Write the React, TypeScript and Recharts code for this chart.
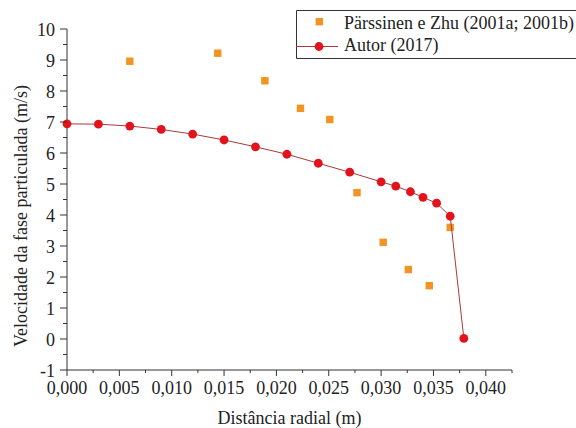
import { Legend, Scatter, ScatterChart, XAxis, YAxis } from "recharts";

// Autor (2017) - red circles joined by a thin line
const autorX = [0, 0.003, 0.006, 0.009, 0.012, 0.015, 0.018, 0.021, 0.024, 0.027, 0.03, 0.0314, 0.0328, 0.034, 0.0353, 0.0366, 0.0379];
const autorY = [6.94, 6.93, 6.87, 6.76, 6.61, 6.42, 6.2, 5.96, 5.67, 5.38, 5.07, 4.93, 4.75, 4.57, 4.38, 3.96, 0.02];

// Pärssinen e Zhu (2001a; 2001b) - orange squares
const parssinenX = [0.006, 0.0144, 0.0189, 0.0223, 0.0251, 0.0277, 0.0302, 0.0326, 0.0346, 0.0366];
const parssinenY = [8.96, 9.22, 8.33, 7.44, 7.08, 4.72, 3.12, 2.24, 1.72, 3.6];

const xTicks = [0, 0.0025, 0.005, 0.0075, 0.01, 0.0125, 0.015, 0.0175, 0.02, 0.0225, 0.025, 0.0275, 0.03, 0.0325, 0.035, 0.0375, 0.04, 0.0425];
const yTicks = [-1, -0.5, 0, 0.5, 1, 1.5, 2, 2.5, 3, 3.5, 4, 4.5, 5, 5.5, 6, 6.5, 7, 7.5, 8, 8.5, 9, 9.5, 10];

const autorData = autorX.map((x, i) => ({ x, y: autorY[i] }));
const parssinenData = parssinenX.map((x, i) => ({ x, y: parssinenY[i] }));

const ORANGE = "#f39322";
const RED = "#e3131b";
const LINE = "#a83a3a";
const AXIS = "#333";
const FONT = "'Liberation Serif', 'Times New Roman', serif";

const isMajor = (v: number, step: number) => Math.abs(v / step - Math.round(v / step)) < 1e-6;

const XTick = (props: any) => {
  const { x, y, payload } = props;
  const major = isMajor(payload.value, 0.005);
  return (
    <g>
      <line x1={x} x2={x} y1={y} y2={y + (major ? 6 : 3)} stroke={AXIS} />
      {major && (
        <text x={x} y={y + 24} textAnchor="middle" fontFamily={FONT} fontSize={18} fill="#222">
          {payload.value.toFixed(3).replace(".", ",")}
        </text>
      )}
    </g>
  );
};

const YTick = (props: any) => {
  const { x, y, payload } = props;
  const major = isMajor(payload.value, 1);
  return (
    <g>
      <line x1={x} x2={x - (major ? 7 : 4)} y1={y} y2={y} stroke={AXIS} />
      {major && (
        <text x={x - 12} y={y + 7} textAnchor="end" fontFamily={FONT} fontSize={18} fill="#222">
          {payload.value}
        </text>
      )}
    </g>
  );
};

const Square = (props: any) => (
  <rect x={props.cx - 3.7} y={props.cy - 3.7} width={7.4} height={7.4} fill={ORANGE} />
);

const Dot = (props: any) => <circle cx={props.cx} cy={props.cy} r={4.4} fill={RED} />;

const renderLegend = () => (
  <svg width={290} height={52} style={{ display: "block" }}>
    <path d="M290 0.5 H0.5 V48.5 H290" fill="none" stroke={AXIS} />
    <rect x={19.6} y={8} width={7.4} height={7.4} fill={ORANGE} />
    <text x={48} y={18.5} fontFamily={FONT} fontSize={18} fill="#222">
      Pärssinen e Zhu (2001a; 2001b)
    </text>
    <line x1={0} x2={42} y1={36.5} y2={36.5} stroke={LINE} />
    <circle cx={23} cy={36.5} r={4.4} fill={RED} />
    <text x={48} y={41} fontFamily={FONT} fontSize={18} fill="#222">
      Autor (2017)
    </text>
  </svg>
);

export default function App() {
  return (
    <div
      style={{
        position: "absolute",
        left: 0,
        top: 0,
        width: 576,
        height: 428,
        overflow: "hidden",
        background: "#fff",
      }}
    >
      <ScatterChart width={576} height={428} margin={{ top: 29, right: 64, bottom: 0, left: 0 }}>
        <XAxis
          type="number"
          dataKey="x"
          domain={[0, 0.0425]}
          ticks={xTicks}
          interval={0}
          height={58}
          tickSize={0}
          tickMargin={0}
          tickLine={false}
          tick={XTick}
          axisLine={{ stroke: AXIS }}
          label={{
            content: (p: any) => (
              <text
                x={p.viewBox.x + p.viewBox.width / 2}
                y={424}
                textAnchor="middle"
                fontFamily={FONT}
                fontSize={18}
                fill="#222"
              >
                Distância radial (m)
              </text>
            ),
          }}
        />
        <YAxis
          type="number"
          dataKey="y"
          domain={[-1, 10]}
          ticks={yTicks}
          interval={0}
          width={67}
          tickSize={0}
          tickMargin={0}
          tickLine={false}
          tick={YTick}
          axisLine={{ stroke: AXIS }}
          label={{
            content: () => (
              <text
                transform="translate(27,216) rotate(-90)"
                textAnchor="middle"
                fontFamily={FONT}
                fontSize={18}
                fill="#222"
              >
                Velocidade da fase particulada (m/s)
              </text>
            ),
          }}
        />
        <Legend
          layout="horizontal"
          verticalAlign="middle"
          align="center"
          content={renderLegend}
          wrapperStyle={{ left: 296, top: 10, width: 290, height: 52 }}
        />
        <Scatter
          name="Pärssinen e Zhu (2001a; 2001b)"
          data={parssinenData}
          shape={Square}
          isAnimationActive={false}
        />
        <Scatter
          name="Autor (2017)"
          data={autorData}
          shape={Dot}
          line={{ stroke: LINE, strokeWidth: 1 }}
          isAnimationActive={false}
        />
      </ScatterChart>
    </div>
  );
}
